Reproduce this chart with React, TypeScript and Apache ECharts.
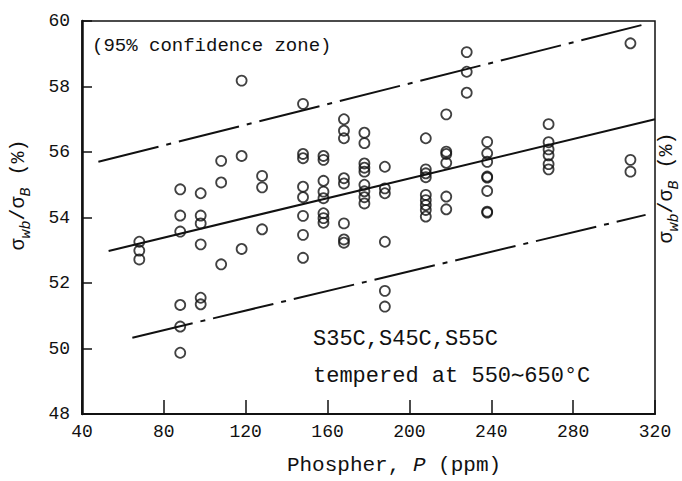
import React, { useEffect, useRef } from "react";
import * as echarts from "echarts";

// Phosphorus content (ppm) of each column of measurements
const phosphorPpm = [68, 88, 98, 108, 118, 128, 148, 158, 168, 178, 188, 208, 218, 228, 238, 268, 308];

// σwb/σB (%) measured at each phosphorus level (same order as phosphorPpm)
const ratioAt68 = [53.26, 52.99, 52.72];
const ratioAt88 = [54.86, 54.06, 53.57, 51.33, 50.67, 49.87];
const ratioAt98 = [54.74, 54.06, 53.82, 53.18, 51.55, 51.35];
const ratioAt108 = [55.73, 55.07, 52.57];
const ratioAt118 = [58.18, 55.88, 53.04];
const ratioAt128 = [55.27, 54.92, 53.64];
const ratioAt148 = [57.47, 55.94, 55.81, 54.94, 54.62, 54.05, 53.47, 52.77];
const ratioAt158 = [55.88, 55.76, 55.12, 54.79, 54.59, 54.13, 53.98, 53.84];
const ratioAt168 = [57.0, 56.65, 56.42, 55.2, 55.04, 53.82, 53.33, 53.23];
const ratioAt178 = [56.59, 56.27, 55.65, 55.52, 55.4, 55.0, 54.8, 54.62, 54.43];
const ratioAt188 = [55.55, 54.89, 54.74, 53.26, 51.76, 51.28];
const ratioAt208 = [56.42, 55.47, 55.35, 55.23, 54.69, 54.53, 54.38, 54.23, 54.03];
const ratioAt218 = [57.15, 56.01, 55.94, 55.67, 54.64, 54.25];
const ratioAt228 = [59.05, 58.45, 57.81];
const ratioAt238 = [56.31, 55.96, 55.7, 55.25, 55.22, 54.81, 54.18, 54.15];
const ratioAt268 = [56.85, 56.3, 56.08, 55.9, 55.63, 55.47];
const ratioAt308 = [59.32, 55.76, 55.4];

const ratioColumns = [
  ratioAt68, ratioAt88, ratioAt98, ratioAt108, ratioAt118, ratioAt128, ratioAt148, ratioAt158,
  ratioAt168, ratioAt178, ratioAt188, ratioAt208, ratioAt218, ratioAt228, ratioAt238, ratioAt268, ratioAt308,
];

// Regression line and 95% confidence limits (end points: [ppm, %])
const fitLine = [[53, 52.98], [320, 57.0]];
const upperLimit = [[48, 55.7], [315, 59.9]];
const lowerLimit = [[64.6, 50.33], [315.4, 54.08]];

// Axis settings / labels
const xRange = [40, 320];
const xStep = 40;
const yRange = [48, 60];
const yStep = 2;

const zoneNote = "(95% confidence zone)";
const steelNote = "S35C,S45C,S55C";
const temperNote = "tempered at 550∼650°C";

const MONO = "'Liberation Mono', 'DejaVu Sans Mono', monospace";
const INK = "#111";

const ylabelText = "{s|σ}{sub|wb}{s|/σ}{sub|B}{s| (%)}";
const ylabelRich = {
  s: { fontSize: 20, fontFamily: MONO, lineHeight: 22, verticalAlign: "top", fill: INK, color: INK },
  sub: { fontSize: 15, fontFamily: MONO, fontStyle: "italic", lineHeight: 36, fill: INK, color: INK },
};

export default function App() {
  const ref = useRef<HTMLDivElement>(null);

  useEffect(() => {
    if (!ref.current) return;
    const chart = echarts.init(ref.current, null, { renderer: "svg" });

    const points: number[][] = [];
    phosphorPpm.forEach((p, i) => {
      ratioColumns[i].forEach((v) => points.push([p, v]));
    });

    const dashDot = [62, 8, 5, 8];

    chart.setOption({
      animation: false,
      backgroundColor: "#fff",
      grid: {
        left: 82,
        right: 27,
        top: 21,
        bottom: 67,
        show: true,
        borderColor: INK,
        borderWidth: 1.5,
        backgroundColor: "transparent",
      },
      xAxis: {
        type: "value",
        min: xRange[0],
        max: xRange[1],
        interval: xStep,
        axisLine: { show: true, lineStyle: { color: INK, width: 2 } },
        axisTick: { show: true, inside: true, length: 14, lineStyle: { color: INK, width: 1.5 } },
        axisLabel: { fontSize: 18, fontFamily: MONO, color: INK, margin: 9 },
        splitLine: { show: false },
      },
      yAxis: {
        type: "value",
        min: yRange[0],
        max: yRange[1],
        interval: yStep,
        axisLine: { show: true, lineStyle: { color: INK, width: 2.5 } },
        axisTick: { show: true, inside: true, length: 10, lineStyle: { color: INK, width: 1.5 } },
        axisLabel: { fontSize: 18, fontFamily: MONO, color: INK, margin: 12 },
        splitLine: { show: false },
      },
      series: [
        {
          type: "line",
          data: fitLine,
          symbol: "none",
          lineStyle: { color: INK, width: 2, type: "solid" },
          silent: true,
        },
        {
          type: "line",
          data: upperLimit,
          symbol: "none",
          lineStyle: { color: INK, width: 2, type: dashDot },
          silent: true,
        },
        {
          type: "line",
          data: lowerLimit,
          symbol: "none",
          lineStyle: { color: INK, width: 2, type: dashDot },
          silent: true,
        },
        {
          type: "scatter",
          data: points,
          symbol: "circle",
          symbolSize: 10,
          itemStyle: { color: "rgba(255,255,255,0)", borderColor: INK, borderWidth: 1.8 },
        },
      ],
      graphic: [
        {
          type: "text",
          left: 92,
          top: 36,
          style: { text: zoneNote, fontSize: 19, fontFamily: MONO, fill: INK },
        },
        {
          type: "text",
          left: 313,
          top: 328,
          style: { text: steelNote, fontSize: 22, fontFamily: MONO, fill: INK },
        },
        {
          type: "text",
          left: 313,
          top: 365,
          style: { text: temperNote, fontSize: 22, fontFamily: MONO, fill: INK },
        },
        {
          type: "text",
          x: 394,
          y: 465,
          style: {
            text: "Phospher, {i|P} (ppm)",
            fontSize: 21,
            fontFamily: MONO,
            fill: INK,
            align: "center",
            verticalAlign: "middle",
            rich: { i: { fontSize: 21, fontFamily: MONO, fontStyle: "italic", fill: INK } },
          },
        },
        {
          type: "text",
          x: 26,
          y: 195,
          rotation: Math.PI / 2,
          style: {
            text: ylabelText,
            fontSize: 20,
            fontFamily: MONO,
            fill: INK,
            align: "center",
            verticalAlign: "middle",
            rich: ylabelRich,
          },
        },
        {
          type: "text",
          x: 674,
          y: 188,
          rotation: Math.PI / 2,
          style: {
            text: ylabelText,
            fontSize: 20,
            fontFamily: MONO,
            fill: INK,
            align: "center",
            verticalAlign: "middle",
            rich: ylabelRich,
          },
        },
      ],
    });

    return () => chart.dispose();
  }, []);

  return (
    <div
      ref={ref}
      style={{ position: "fixed", left: 0, top: 0, width: 682, height: 481, background: "#fff" }}
    />
  );
}
